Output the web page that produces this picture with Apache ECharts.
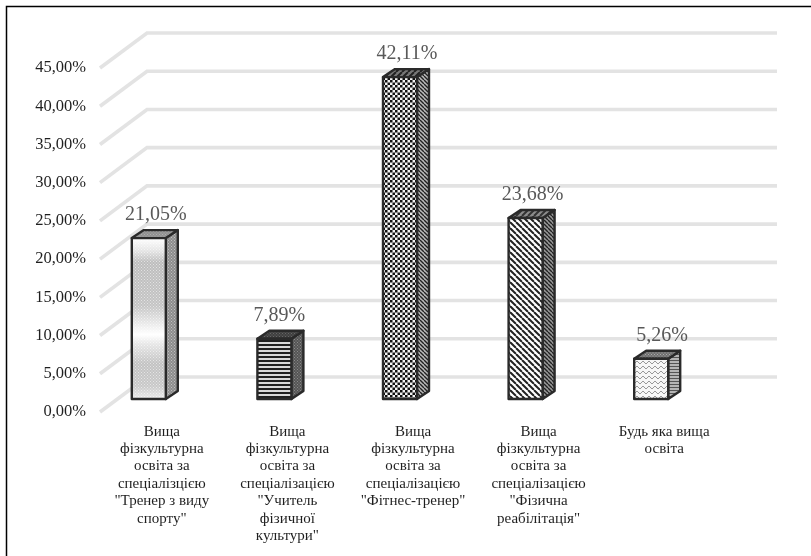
<!DOCTYPE html>
<html>
<head>
<meta charset="utf-8">
<style>html,body{margin:0;padding:0;background:#fff}#chart{width:811px;height:556px}</style>
<script src="https://cdn.jsdelivr.net/npm/echarts@6/dist/echarts.min.js"></script>
</head>
<body>
<div id="chart"></div>
<script>
// Освіта фахівців: частка за напрямами спеціалізації
const categories = [
  'Вища\nфізкультурна\nосвіта за\nспеціалізцією\n"Тренер з виду\nспорту"',
  'Вища\nфізкультурна\nосвіта за\nспеціалізацією\n"Учитель\nфізичної\nкультури"',
  'Вища\nфізкультурна\nосвіта за\nспеціалізацією\n"Фітнес-тренер"',
  'Вища\nфізкультурна\nосвіта за\nспеціалізацією\n"Фізична\nреабілітація"',
  'Будь яка вища\nосвіта'
];
const shares = [21.05, 7.89, 42.11, 23.68, 5.26];
const wallTicks = [0, 5, 10, 15, 20, 25, 30, 35, 40, 45];

const SERIF = '"Liberation Serif","Times New Roman",serif';

// Small repeating tiles for the hatched bar faces
function tile(w, h, paint) {
  const c = document.createElement('canvas');
  c.width = w; c.height = h;
  paint(c.getContext('2d'));
  return { image: c, repeat: 'repeat' };
}
function dots(bg, fg) {
  return tile(3, 3, g => {
    g.fillStyle = bg; g.fillRect(0, 0, 3, 3);
    g.fillStyle = fg; g.fillRect(0, 0, 1, 1); g.fillRect(1.5, 1.5, 1, 1);
  });
}
function rows(bg, fg, period, thick) {
  return tile(4, period, g => {
    g.fillStyle = bg; g.fillRect(0, 0, 4, period);
    g.fillStyle = fg; g.fillRect(0, 0, 4, thick);
  });
}
function checker(bg, fg, size) {
  const n = size / 2;
  return tile(size, size, g => {
    g.fillStyle = bg; g.fillRect(0, 0, size, size);
    g.fillStyle = fg; g.fillRect(0, 0, n, n); g.fillRect(n, n, n, n);
  });
}
function diagonal(bg, fg, n, lw, falling) {
  return tile(n, n, g => {
    g.fillStyle = bg; g.fillRect(0, 0, n, n);
    g.strokeStyle = fg; g.lineWidth = lw;
    for (let k = -n; k <= n; k += n) {
      g.beginPath();
      if (falling) { g.moveTo(k, 0); g.lineTo(k + n, n); }
      else { g.moveTo(k + n, 0); g.lineTo(k, n); }
      g.stroke();
    }
  });
}
function waves(bg, fg) {
  return tile(6, 5, g => {
    g.fillStyle = bg; g.fillRect(0, 0, 6, 5);
    g.fillStyle = fg;
    g.fillRect(0, 1, 2, 1); g.fillRect(2, 2, 1, 1); g.fillRect(3, 3, 2, 1); g.fillRect(5, 2, 1, 1);
  });
}
const softBand = {
  type: 'linear', x: 0, y: 0, x2: 0, y2: 1,
  colorStops: [
    { offset: 0, color: '#ffffff' }, { offset: 0.08, color: '#e4e4e4' },
    { offset: 0.15, color: '#bdbdbd' }, { offset: 0.42, color: '#c4c4c4' },
    { offset: 0.56, color: '#f3f3f3' }, { offset: 0.6, color: '#ffffff' },
    { offset: 0.66, color: '#e6e6e6' }, { offset: 0.78, color: '#c2c2c2' },
    { offset: 0.92, color: '#c8c8c8' }, { offset: 1, color: '#ececec' }
  ]
};
const faces = [
  { base: softBand, front: dots('rgba(255,255,255,0)', 'rgba(255,255,255,0.55)'),
    side: dots('#8c8c8c', '#c0c0c0'), top: dots('#909090', '#adadad') },
  { base: '#fff', front: rows('#d8d8d8', '#1f1f1f', 4, 2),
    side: dots('#555', '#8a8a8a'), top: dots('#3f3f3f', '#666') },
  { base: '#fff', front: checker('#f4f4f4', '#111', 5),
    side: diagonal('#bbb', '#222', 4, 1.4, true), top: diagonal('#777', '#222', 6, 2, false) },
  { base: '#fff', front: diagonal('#fff', '#222', 6, 2, true),
    side: diagonal('#999', '#222', 4, 1.4, true), top: diagonal('#8c8c8c', '#333', 6, 2, false) },
  { base: '#fff', front: waves('#f7f7f7', '#999'),
    side: rows('#b5b5b5', '#555', 3, 1), top: dots('#6f6f6f', '#aaa') }
];
const labelNudge = [7, 5, 7, 7, 11];

const chart = echarts.init(document.getElementById('chart'), null, { renderer: 'canvas' });

// Depth of the chart's floor and of a single bar, in pixels
const WALL = { dx: 47, dy: -35 };
const BAR = { shiftX: -13, shiftY: -13, half: 17, dx: 12, dy: -8 };

function renderWall(params, api) {
  const p = api.coord([0, api.value(0)]);
  const x0 = params.coordSys.x + 1;
  const x1 = 777;
  return {
    type: 'polyline',
    silent: true,
    shape: { points: [[x0, p[1]], [x0 + WALL.dx, p[1] + WALL.dy], [x1, p[1] + WALL.dy]] },
    style: { stroke: '#e3e3e3', lineWidth: 3.6, fill: null }
  };
}

function renderBar(params, api) {
  const i = api.value(0);
  const v = api.value(1);
  const foot = api.coord([i, 0]);
  const head = api.coord([i, v]);
  const L = foot[0] + BAR.shiftX - BAR.half;
  const R = foot[0] + BAR.shiftX + BAR.half;
  const B = foot[1] + BAR.shiftY;
  const T = head[1] + BAR.shiftY;
  const f = faces[i];
  const edge = { stroke: '#2a2a2a', lineWidth: 2.4, lineJoin: 'round' };
  const poly = (pts, fill) => ({
    type: 'polygon', shape: { points: pts }, style: Object.assign({ fill: fill }, edge)
  });
  const plain = (pts, fill) => ({
    type: 'polygon', shape: { points: pts }, style: { fill: fill }
  });
  const frontPts = [[L, T], [R, T], [R, B], [L, B]];
  const sidePts = [[R, T], [R + BAR.dx, T + BAR.dy], [R + BAR.dx, B + BAR.dy], [R, B]];
  const topPts = [[L, T], [L + BAR.dx, T + BAR.dy], [R + BAR.dx, T + BAR.dy], [R, T]];
  return {
    type: 'group',
    children: [
      poly(sidePts, f.side),
      poly(topPts, f.top),
      plain(frontPts, f.base),
      poly(frontPts, f.front),
      {
        type: 'text',
        style: {
          text: v.toFixed(2).replace('.', ',') + '%',
          x: foot[0] + BAR.shiftX + labelNudge[i],
          y: T - 23,
          align: 'center',
          verticalAlign: 'middle',
          fill: '#595959',
          font: '20px ' + SERIF
        }
      }
    ]
  };
}

chart.setOption({
  animation: false,
  backgroundColor: '#fff',
  graphic: [{
    type: 'polyline',
    silent: true,
    z: -10,
    shape: { points: [[6.5, 556], [6.5, 6.5], [811, 6.5]] },
    style: { fill: null, stroke: '#000', lineWidth: 1.5 }
  }],
  grid: { left: 99, right: 84, top: 68, bottom: 144, containLabel: false },
  xAxis: {
    type: 'category',
    data: categories,
    axisLine: { show: false },
    axisTick: { show: false },
    splitLine: { show: false },
    axisLabel: {
      interval: 0, margin: 11, color: '#1f1f1f',
      fontFamily: SERIF, fontSize: 15, lineHeight: 17.4
    }
  },
  yAxis: {
    type: 'value',
    min: 0, max: 45, interval: 5,
    axisLine: { show: false },
    axisTick: { show: false },
    splitLine: { show: false },
    axisLabel: {
      margin: 13, color: '#1f1f1f', fontFamily: SERIF, fontSize: 16.5,
      padding: [5, 0, 0, 0],
      formatter: v => v.toFixed(2).replace('.', ',') + '%'
    }
  },
  series: [
    {
      type: 'custom', coordinateSystem: 'cartesian2d', z: 1, silent: true,
      encode: { y: 0 },
      data: wallTicks.map(t => [t]),
      renderItem: renderWall
    },
    {
      type: 'custom', coordinateSystem: 'cartesian2d', z: 2, silent: true,
      encode: { x: 0, y: 1 },
      data: shares.map((v, i) => [i, v]),
      renderItem: renderBar
    }
  ]
});
</script>
</body>
</html>
